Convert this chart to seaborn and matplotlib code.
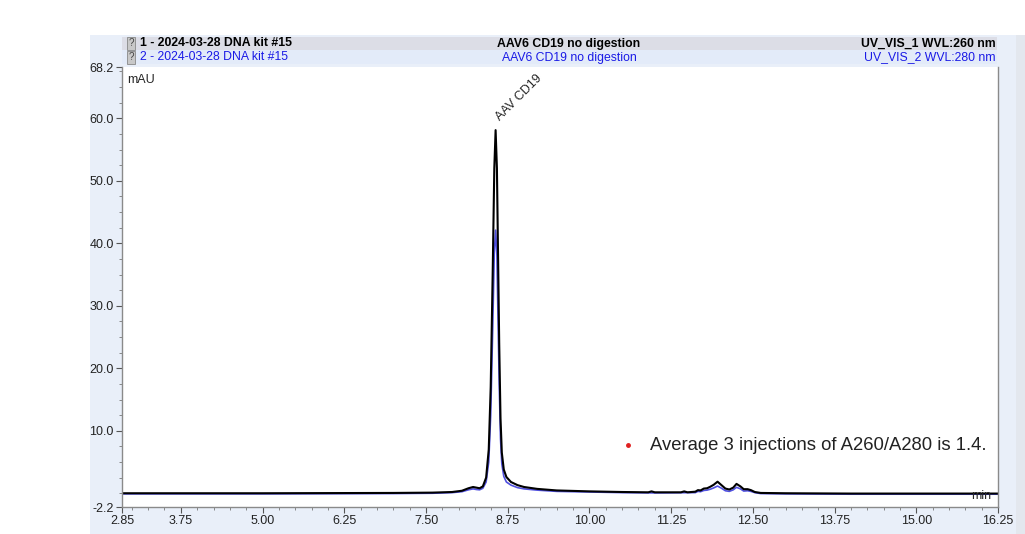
import matplotlib
matplotlib.use("Agg")
import matplotlib.pyplot as plt
import seaborn as sns
import numpy as np
import pandas as pd
from matplotlib.patches import Rectangle

sns.set_style("white")
plt.rcParams['font.family'] = ['Liberation Sans', 'DejaVu Sans']

# retention time (min) and signal (mAU)
time_260 = [2.85, 5.0, 7.0, 7.6, 7.9, 8.05, 8.15, 8.22, 8.27, 8.32, 8.37, 8.42,
            8.46, 8.49, 8.52, 8.545, 8.565, 8.585, 8.60, 8.62, 8.64, 8.66, 8.69,
            8.73, 8.80, 8.90, 9.00, 9.20, 9.50, 10.0, 10.5, 10.9, 10.95, 11.0,
            11.4, 11.45, 11.5, 11.62, 11.66, 11.70, 11.75, 11.80, 11.85, 11.90,
            11.96, 12.02, 12.08, 12.14, 12.20, 12.25, 12.31, 12.36, 12.42, 12.47,
            12.53, 12.62, 13.0, 14.0, 16.25]
uv_260 = [0.0, 0.0, 0.05, 0.1, 0.2, 0.4, 0.8, 1.0, 0.9, 0.8, 1.1, 2.5,
          7.0, 17.0, 35.0, 52.0, 58.1, 52.0, 40.0, 24.0, 12.0, 6.5, 3.8,
          2.6, 1.8, 1.3, 1.0, 0.7, 0.45, 0.3, 0.2, 0.15, 0.3, 0.15,
          0.15, 0.3, 0.15, 0.25, 0.5, 0.45, 0.75, 0.8, 1.05, 1.35,
          1.85, 1.3, 0.75, 0.6, 0.9, 1.5, 1.1, 0.65, 0.65, 0.5,
          0.2, 0.05, 0.0, -0.05, -0.05]

time_280 = [2.85, 5.0, 7.0, 7.6, 7.9, 8.05, 8.15, 8.22, 8.27, 8.32, 8.37, 8.42,
            8.46, 8.49, 8.52, 8.545, 8.565, 8.585, 8.60, 8.62, 8.64, 8.66, 8.69,
            8.73, 8.80, 8.90, 9.00, 9.20, 9.50, 10.0, 10.5, 11.0, 11.62, 11.66,
            11.70, 11.75, 11.80, 11.85, 11.90, 11.96, 12.02, 12.08, 12.14, 12.20,
            12.25, 12.31, 12.36, 12.42, 12.47, 12.53, 12.62, 13.0, 14.0, 16.25]
uv_280 = [-0.1, -0.1, -0.05, 0.0, 0.1, 0.25, 0.55, 0.7, 0.6, 0.55, 0.8, 1.8,
          5.0, 12.5, 26.0, 38.5, 42.1, 38.0, 29.0, 17.5, 8.7, 4.7, 2.7,
          1.8, 1.3, 0.9, 0.7, 0.5, 0.3, 0.2, 0.1, 0.05, 0.1, 0.3,
          0.25, 0.45, 0.5, 0.65, 0.85, 1.15, 0.8, 0.4, 0.3, 0.55,
          0.95, 0.7, 0.35, 0.4, 0.3, 0.1, -0.05, -0.1, -0.15, -0.15]

x_ticks = [2.85, 3.75, 5.00, 6.25, 7.50, 8.75, 10.00, 11.25, 12.50, 13.75, 15.00, 16.25]
y_ticks = [-2.2, 10.0, 20.0, 30.0, 40.0, 50.0, 60.0, 68.2]

header_1 = ["1 - 2024-03-28 DNA kit #15", "AAV6 CD19 no digestion", "UV_VIS_1 WVL:260 nm"]
header_2 = ["2 - 2024-03-28 DNA kit #15", "AAV6 CD19 no digestion", "UV_VIS_2 WVL:280 nm"]
peak_label = "AAV CD19"
note = "Average 3 injections of A260/A280 is 1.4."

W, H = 1025, 534
fig = plt.figure(figsize=(W / 100, H / 100), dpi=100)
fig.patch.set_facecolor('white')

def fx(px):
    return px / W

def fy(py):
    return 1 - py / H

# panel background and header rows
fig.add_artist(Rectangle((fx(90), 0), fx(1016 - 90), fy(35), transform=fig.transFigure,
                         facecolor='#e9eff9', edgecolor='none', zorder=0))
fig.add_artist(Rectangle((fx(1016), 0), fx(9), fy(35), transform=fig.transFigure,
                         facecolor='#e3e7ee', edgecolor='none', zorder=0))
fig.add_artist(Rectangle((fx(122), fy(50)), fx(997 - 122), 13 / H, transform=fig.transFigure,
                         facecolor='#dcdde6', edgecolor='none', zorder=1))
fig.add_artist(Rectangle((fx(122), fy(64)), fx(997 - 122), 14 / H, transform=fig.transFigure,
                         facecolor='#e3ebf9', edgecolor='none', zorder=1))

for texts, color, weight, ypx in [(header_1, 'black', 'bold', 43.5),
                                  (header_2, '#1a1ae6', 'normal', 57.5)]:
    fig.text(fx(131), fy(ypx), '?', fontsize=7, color='#444444', ha='center', va='center',
             bbox=dict(boxstyle='square,pad=0.15', facecolor='#c8c8c8', edgecolor='#888888', lw=0.6))
    fig.text(fx(140), fy(ypx), texts[0], fontsize=8.8, color=color, fontweight=weight,
             ha='left', va='center')
    fig.text(fx(569), fy(ypx), texts[1], fontsize=8.8, color=color, fontweight=weight,
             ha='center', va='center')
    fig.text(fx(996), fy(ypx), texts[2], fontsize=8.8, color=color, fontweight=weight,
             ha='right', va='center')

ax = fig.add_axes([fx(122), fy(507), fx(998 - 122), (507 - 67) / H])
ax.set_facecolor('white')

df_280 = pd.DataFrame({'time': time_280, 'mAU': uv_280})
df_260 = pd.DataFrame({'time': time_260, 'mAU': uv_260})
sns.lineplot(data=df_280, x='time', y='mAU', ax=ax, color='#5050e0', lw=1.2, sort=False)
sns.lineplot(data=df_260, x='time', y='mAU', ax=ax, color='black', lw=1.5, sort=False)

ax.set_xlim(2.85, 16.25)
ax.set_ylim(-2.2, 68.2)
ax.set_xticks(x_ticks)
ax.set_xticklabels([f"{v:.2f}" for v in x_ticks])
ax.set_yticks(y_ticks)
ax.set_yticklabels([f"{v:.1f}" for v in y_ticks])
ax.set_xticks(np.arange(3.0, 16.25, 0.25), minor=True)
ax.set_yticks(np.arange(0, 68.2, 2.5), minor=True)
ax.tick_params(axis='both', which='major', direction='out', length=4, width=0.8,
               color='#555555', labelsize=9, labelcolor='#222222', pad=2)
ax.tick_params(axis='both', which='minor', direction='out', length=2, width=0.6, color='#777777')
ax.tick_params(bottom=True, left=True, which='both')
ax.set_xlabel('')
ax.set_ylabel('')
for side in ['left', 'bottom', 'right', 'top']:
    ax.spines[side].set_color('#8a8a8a')
    ax.spines[side].set_linewidth(1.0)
ax.spines['top'].set_visible(False)

ax.text(0.006, 0.985, 'mAU', transform=ax.transAxes, fontsize=9, ha='left', va='top')
ax.text(0.992, 0.012, 'min', transform=ax.transAxes, fontsize=9, ha='right', va='bottom')

ax.annotate(peak_label, xy=(8.565, 58.1), xytext=(5, 5), textcoords='offset points',
            rotation=45, fontsize=9, ha='left', va='bottom', rotation_mode='anchor')

ax.plot([10.59], [7.7], 'o', color='#e02020', ms=2.5)
ax.text(10.92, 7.7, note, fontsize=13.3, color='#222222', ha='left', va='center')

fig.savefig('out.png', dpi=100, facecolor='white')
